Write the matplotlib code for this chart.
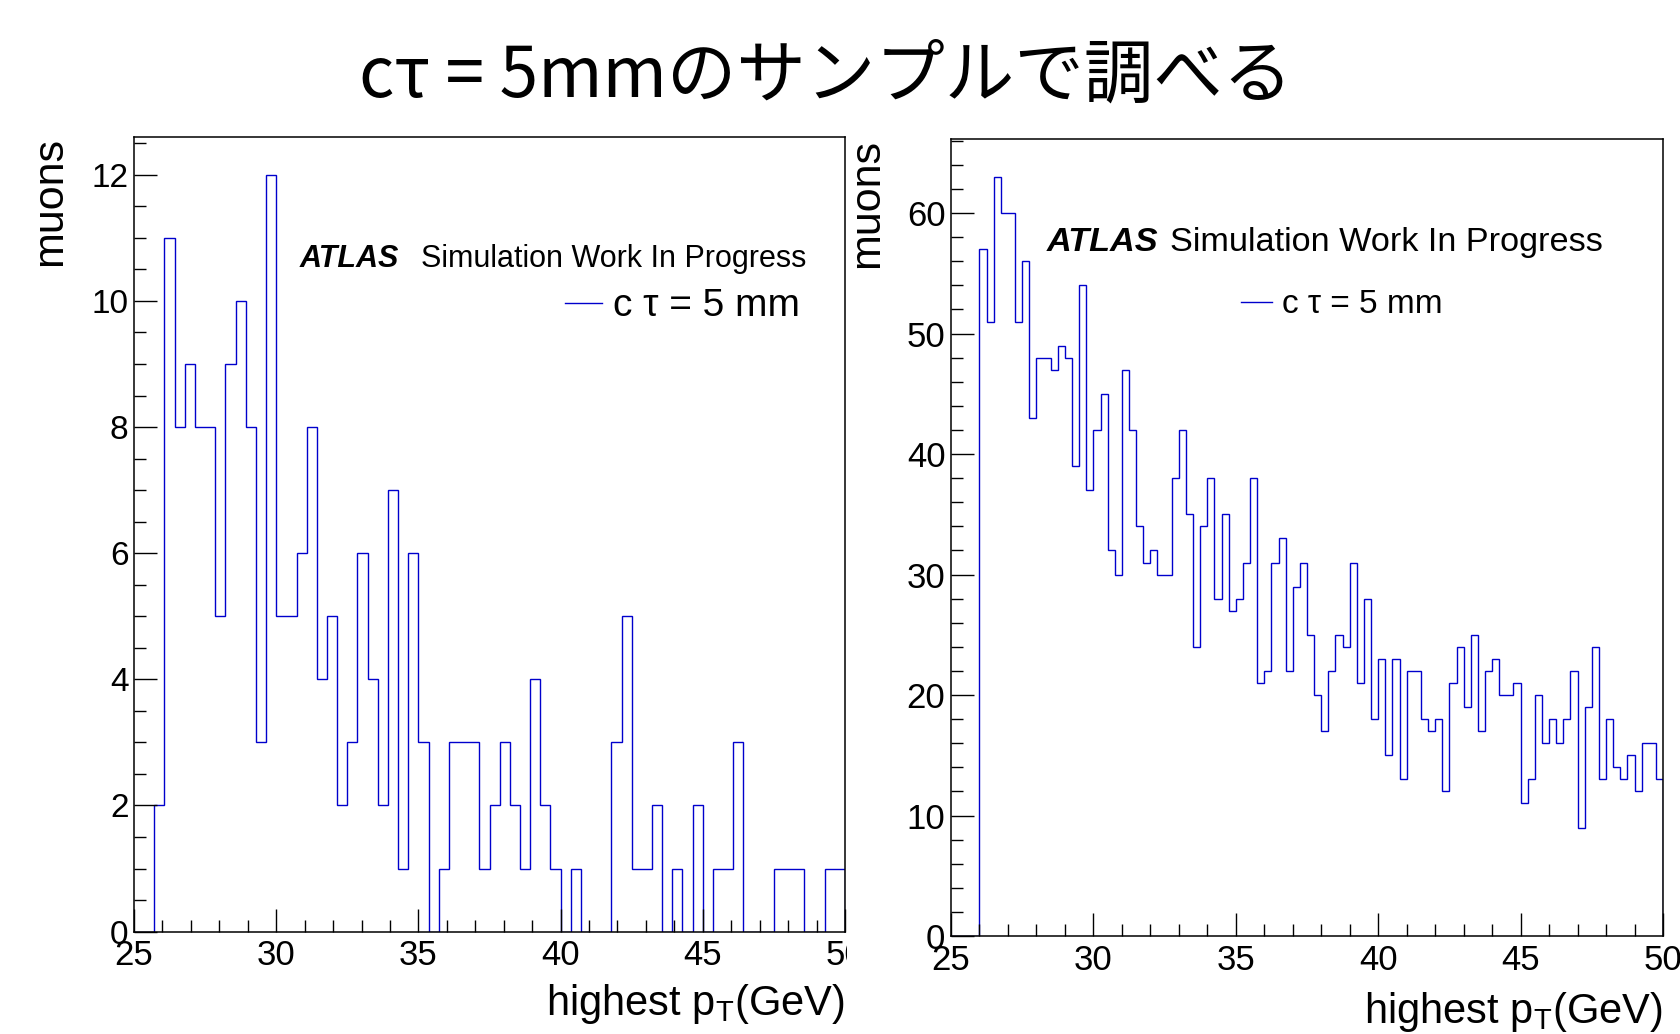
import numpy as np
import matplotlib
matplotlib.use('Agg')
import matplotlib.pyplot as plt
from matplotlib.ticker import MultipleLocator
from matplotlib.patches import Rectangle

plt.rcParams['font.family'] = ['Liberation Sans', 'DejaVu Sans']
plt.rcParams['mathtext.fontset'] = 'custom'
plt.rcParams['mathtext.rm'] = 'Liberation Sans'
plt.rcParams['mathtext.it'] = 'Liberation Sans:italic'

title = 'cτ = 5mmのサンプルで調べる'
x_label = 'highest p$_\\mathregular{T}$(GeV)'
y_label = 'muons'
legend_label = 'c τ = 5 mm'

# left histogram: 70 bins from 25 to 50 GeV
left_range = (25, 50)
left_counts = [0, 0, 2, 11, 8, 9, 8, 8, 5, 9,
               10, 8, 3, 12, 5, 5, 6, 8, 4, 5,
               2, 3, 6, 4, 2, 7, 1, 6, 3, 0,
               1, 3, 3, 3, 1, 2, 3, 2, 1, 4,
               2, 1, 0, 1, 0, 0, 0, 3, 5, 1,
               1, 2, 0, 1, 0, 2, 0, 1, 1, 3,
               0, 0, 0, 1, 1, 1, 0, 0, 1, 1]

# right histogram: 100 bins from 25 to 50 GeV
right_range = (25, 50)
right_counts = [0, 0, 0, 0, 57, 51, 63, 60, 60, 51,
                56, 43, 48, 48, 47, 49, 48, 39, 54, 37,
                42, 45, 32, 30, 47, 42, 34, 31, 32, 30,
                30, 38, 42, 35, 24, 34, 38, 28, 35, 27,
                28, 31, 38, 21, 22, 31, 33, 22, 29, 31,
                25, 20, 17, 22, 25, 24, 31, 21, 28, 18,
                23, 15, 23, 13, 22, 22, 18, 17, 18, 12,
                21, 24, 19, 25, 17, 22, 23, 20, 20, 21,
                11, 13, 20, 16, 18, 16, 18, 22, 9, 19,
                24, 13, 18, 14, 13, 15, 12, 16, 16, 13]

W, H = 1681, 1034
fig = plt.figure(figsize=(W / 100, H / 100), dpi=100)
fig.patch.set_facecolor('white')

fig.text(826 / W, 1 - 77 / H, title, ha='center', va='center',
         fontsize=50, family=['Noto Sans CJK JP', 'DejaVu Sans'])

ax1 = fig.add_axes([134 / W, 1 - 931.6 / H, 711 / W, 794.6 / H], zorder=0)
ax2 = fig.add_axes([951 / W, 1 - 936 / H, 712 / W, 797 / H], zorder=1)

# white pad of the right canvas hides the clipped "50" of the left one
fig.add_artist(Rectangle((847 / W, 0), 1 - 847 / W, 0.875, transform=fig.transFigure,
                         facecolor='white', edgecolor='none', zorder=0.5))


def draw_hist(ax, counts, xrange, ymax, ymajor, yminor, lab_y, big, leg_xy, atlas_xy, sim_x,
              ytick_size, leg_size):
    edges = np.linspace(xrange[0], xrange[1], len(counts) + 1)
    ax.stairs(counts, edges, color='#0000cc', lw=1.0, label=legend_label)
    ax.set_xlim(*xrange)
    ax.set_ylim(0, ymax)
    ax.xaxis.set_major_locator(MultipleLocator(5))
    ax.xaxis.set_minor_locator(MultipleLocator(1))
    ax.yaxis.set_major_locator(MultipleLocator(ymajor))
    ax.yaxis.set_minor_locator(MultipleLocator(yminor))
    ax.tick_params(which='both', direction='in', top=False, right=False, width=1.0)
    ax.tick_params(which='major', length=16.5)
    ax.tick_params(which='minor', length=8.4)
    ax.tick_params(axis='x', labelsize=25, pad=5.5)
    ax.tick_params(axis='y', labelsize=ytick_size, pad=4)
    for s in ax.spines.values():
        s.set_linewidth(1.1)

    ax.set_xlabel(x_label, fontsize=30, ha='right', va='baseline')
    ax.xaxis.set_label_coords(1.0, lab_y)
    ax.set_ylabel(y_label, fontsize=31, ha='right', va='baseline')
    ax.yaxis.set_label_coords(-0.103, 1.0)

    ax.text(atlas_xy[0], atlas_xy[1], 'ATLAS', transform=ax.transAxes, fontsize=big,
            fontweight='bold', fontstyle='italic', va='baseline')
    ax.text(sim_x, atlas_xy[1], 'Simulation Work In Progress', transform=ax.transAxes,
            fontsize=big, va='baseline')
    ax.legend(loc='center left', bbox_to_anchor=leg_xy, frameon=False, fontsize=leg_size,
              handlelength=0.95, handletextpad=0.3, borderpad=0, borderaxespad=0)


draw_hist(ax1, left_counts, left_range, 12.6, 2, 0.5, -0.105, 22,
          (0.606, 0.787), (0.2335, 0.8364), 0.4037, 24, 28)
draw_hist(ax2, right_counts, right_range, 66.15, 10, 2, -0.109, 24.7,
          (0.407, 0.792), (0.1348, 0.8595), 0.3076, 25, 24)

fig.savefig('out.png', dpi=100)
